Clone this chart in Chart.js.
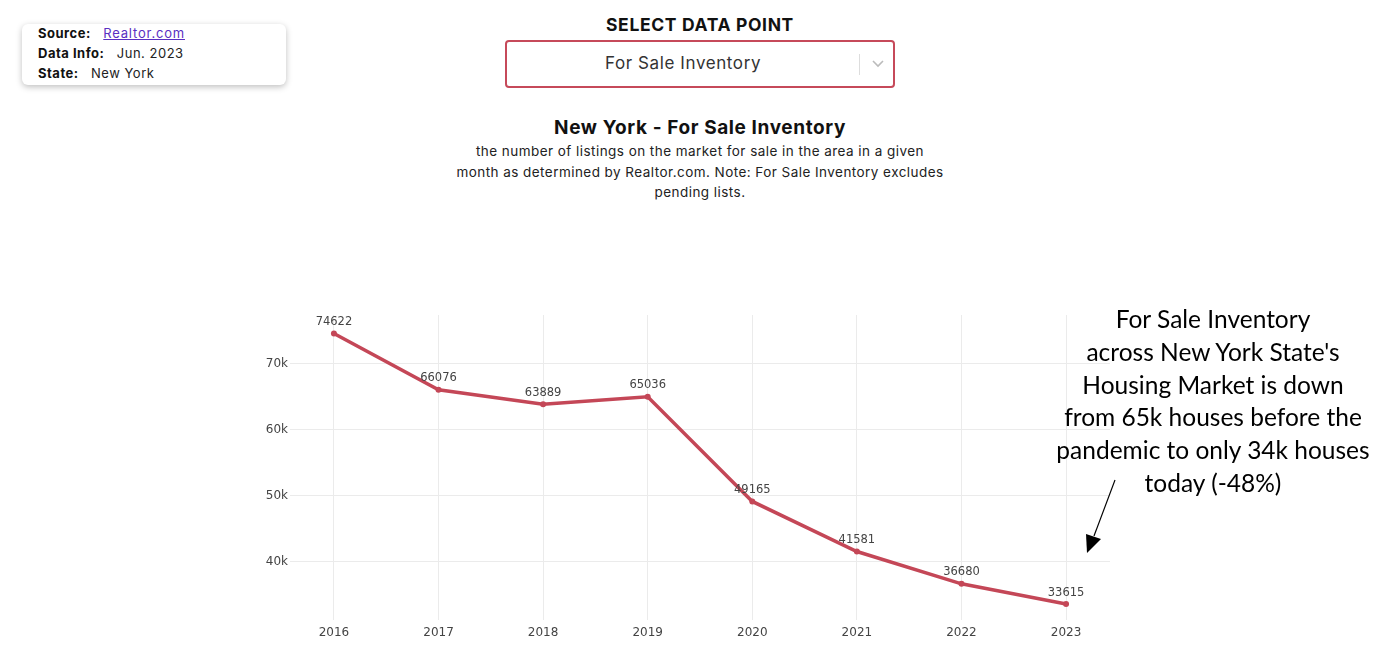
<!DOCTYPE html>
<html>
<head>
<meta charset="utf-8">
<script src="https://cdn.jsdelivr.net/npm/chart.js@4.4.0/dist/chart.umd.min.js"></script>
<style>
  html, body { margin: 0; padding: 0; background: #fff; width: 1394px; height: 670px; overflow: hidden; }
  body { position: relative; font-family: "Inter", "Noto Sans", sans-serif; color: #111; }
  .info { position: absolute; left: 22px; top: 24px; width: 264px; height: 61px; background: #fff; border-radius: 6px;
          box-shadow: 0 2px 6px rgba(0,0,0,0.25); font-size: 13px; letter-spacing: 0.5px; }
  .info div { position: absolute; left: 16px; white-space: nowrap; }
  .info b { font-weight: 700; color: #111; }
  .info span { color: #222; }
  .info a { color: #5a2fc2; text-decoration: underline; letter-spacing: 0.8px; }
  .sel-title { position: absolute; left: 450px; width: 500px; top: 14px; text-align: center; font-weight: 700; font-size: 17.5px; color: #111; letter-spacing: 0.65px; }
  .sel { position: absolute; left: 505px; top: 40px; width: 386px; height: 44px; border: 2px solid #c64a5a; border-radius: 4px; box-sizing: content-box; }
  .sel .txt { position: absolute; left: 0; width: 352px; top: 11px; text-align: center; font-size: 17px; color: #333; letter-spacing: 0.6px; }
  .sel .sep { position: absolute; left: 352px; top: 12px; width: 1px; height: 21px; background: #ddd; }
  .sel svg { position: absolute; left: 364px; top: 17px; }
  .ch-title { position: absolute; left: 400px; width: 600px; top: 116px; text-align: center; font-weight: 700; font-size: 19px; color: #111; letter-spacing: 0.6px; }
  .ch-sub { position: absolute; left: 400px; width: 600px; top: 141px; text-align: center; font-size: 13.5px; line-height: 20.5px; color: #222; letter-spacing: 0.45px; }
  .note { position: absolute; left: 1013px; width: 400px; top: 303px; text-align: center; font-family: "Lato", "Open Sans", sans-serif; font-size: 24.5px; line-height: 32.8px; color: #000; }
  #wrap { position: absolute; left: 0; top: 0; width: 1394px; height: 670px; }
  #arrow { position: absolute; left: 0; top: 0; }
</style>
</head>
<body>
<div class="info">
  <div style="top:1px"><b>Source:</b>&nbsp;&nbsp;&nbsp;<a>Realtor.com</a></div>
  <div style="top:21px"><b>Data Info:</b>&nbsp;&nbsp;&nbsp;<span>Jun. 2023</span></div>
  <div style="top:41px"><b>State:</b>&nbsp;&nbsp;&nbsp;<span>New York</span></div>
</div>
<div class="sel-title">SELECT DATA POINT</div>
<div class="sel">
  <div class="txt">For Sale Inventory</div>
  <div class="sep"></div>
  <svg width="14" height="10" viewBox="0 0 14 10"><polyline points="2,2 7,7 12,2" fill="none" stroke="#bbb" stroke-width="1.6"/></svg>
</div>
<div class="ch-title">New York - For Sale Inventory</div>
<div class="ch-sub">the number of listings on the market for sale in the area in a given<br>month as determined by Realtor.com. Note: For Sale Inventory excludes<br>pending lists.</div>
<div id="wrap"><canvas id="c"></canvas></div>
<div class="note">For Sale Inventory<br>across New York State's<br>Housing Market is down<br>from 65k houses before the<br>pandemic to only 34k houses<br>today (-48%)</div>
<svg id="arrow" width="1394" height="670">
  <line x1="1115" y1="480" x2="1094" y2="536" stroke="#000" stroke-width="1.2"/>
  <polygon points="1087,553 1086,534 1101,539" fill="#000"/>
</svg>
<script>
const years = [2016, 2017, 2018, 2019, 2020, 2021, 2022, 2023];
const yearLabels = ["2016", "2017", "2018", "2019", "2020", "2021", "2022", "2023"];
const inventory = [74622, 66076, 63889, 65036, 49165, 41581, 36680, 33615];
const yTicks = [40000, 50000, 60000, 70000];
const yTickLabels = ["40k", "50k", "60k", "70k"];

const lineColor = "#c44757";

const valueLabels = {
  id: "valueLabels",
  afterDatasetsDraw(chart) {
    const ctx = chart.ctx;
    const meta = chart.getDatasetMeta(0);
    ctx.save();
    ctx.font = "11.5px 'DejaVu Sans'";
    ctx.fillStyle = "#444";
    ctx.textAlign = "center";
    ctx.textBaseline = "middle";
    meta.data.forEach((pt, i) => {
      ctx.fillText(String(inventory[i]), pt.x, pt.y - 11.5);
    });
    ctx.restore();
  }
};

new Chart(document.getElementById("c"), {
  type: "line",
  data: {
    datasets: [{
      data: years.map((y, i) => ({ x: y, y: inventory[i] })),
      borderColor: lineColor,
      backgroundColor: lineColor,
      borderWidth: 3.5,
      pointRadius: 3,
      pointBorderWidth: 0,
      tension: 0
    }]
  },
  options: {
    responsive: true,
    maintainAspectRatio: false,
    animation: false,
    layout: { padding: { left: 240, top: 315, right: 284, bottom: 20 } },
    plugins: { legend: { display: false }, tooltip: { enabled: false } },
    scales: {
      x: {
        type: "linear",
        min: 2015.58,
        max: 2023.42,
        afterBuildTicks(scale) { scale.ticks = years.map(v => ({ value: v })); },
        afterFit(scale) { scale.height = 30; },
        grid: { color: "#ebebeb", lineWidth: 1, drawTicks: false },
        border: { display: false },
        ticks: {
          padding: 6,
          color: "#444",
          font: { family: "DejaVu Sans", size: 12 },
          maxRotation: 0,
          autoSkip: false,
          callback: (v) => yearLabels[years.indexOf(v)]
        }
      },
      y: {
        min: 31200,
        max: 77420,
        afterBuildTicks(scale) { scale.ticks = yTicks.map(v => ({ value: v })); },
        afterFit(scale) { scale.width = 50; },
        grid: { color: "#ebebeb", lineWidth: 1, drawTicks: false },
        border: { display: false },
        ticks: {
          padding: 2,
          color: "#444",
          font: { family: "DejaVu Sans", size: 12 },
          callback: (v) => yTickLabels[yTicks.indexOf(v)]
        }
      }
    }
  },
  plugins: [valueLabels]
});
</script>
</body>
</html>
